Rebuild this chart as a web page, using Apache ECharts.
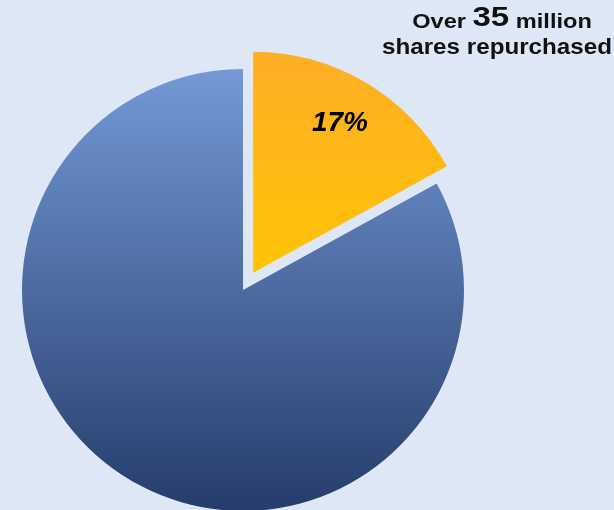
<!DOCTYPE html>
<html>
<head>
<meta charset="utf-8">
<script src="https://cdn.jsdelivr.net/npm/echarts@6/dist/echarts.min.js"></script>
<style>
  html, body { margin: 0; padding: 0; background: #dde7f5; }
  #chart { width: 614px; height: 510px; }
</style>
</head>
<body>
<div id="chart"></div>
<script>
// Share of total shares: repurchased vs remaining
const categories = ['Repurchased', 'Remaining'];
const shareValues = [17, 83];
const headlineParts = ['Over ', '35', ' million'];
const headlineSecond = 'shares repurchased';

const chart = echarts.init(document.getElementById('chart'), null, { renderer: 'canvas' });

const blueFill = new echarts.graphic.LinearGradient(0, 0, 0, 1, [
  { offset: 0, color: '#7399d6' },
  { offset: 1, color: '#263c6b' }
]);
const orangeFill = new echarts.graphic.LinearGradient(0, 0, 0, 1, [
  { offset: 0, color: '#fdae25' },
  { offset: 1, color: '#ffc406' }
]);

const FONT = 'Liberation Sans, Arial, sans-serif';

chart.setOption({
  backgroundColor: '#dde7f5',
  animation: false,
  graphic: [
    {
      type: 'text',
      x: 502,
      y: 4,
      scaleX: 1.18,
      style: {
        text: '{n|' + headlineParts[0] + '}{b|' + headlineParts[1] + '}{n|' + headlineParts[2] + '}',
        align: 'center',
        verticalAlign: 'top',
        rich: {
          n: { fontSize: 20, fontWeight: 'bold', fill: '#111', lineHeight: 28, fontFamily: FONT, verticalAlign: 'bottom' },
          b: { fontSize: 28, fontWeight: 'bold', fill: '#111', lineHeight: 28, fontFamily: FONT, verticalAlign: 'bottom' }
        }
      }
    },
    {
      type: 'text',
      x: 497,
      y: 37,
      scaleX: 1.1,
      style: {
        text: headlineSecond,
        align: 'center',
        verticalAlign: 'top',
        fontSize: 22,
        fontWeight: 'bold',
        fill: '#111',
        fontFamily: FONT
      }
    }
  ],
  series: [{
    type: 'pie',
    center: [243, 290],
    radius: [0, 221],
    startAngle: 90,
    clockwise: true,
    selectedMode: 'single',
    selectedOffset: 20,
    silent: true,
    labelLine: { show: false },
    labelLayout: { dx: 29, dy: -52 },
    data: [
      {
        name: categories[0],
        value: shareValues[0],
        selected: true,
        itemStyle: { color: orangeFill },
        label: {
          show: true,
          position: 'inside',
          formatter: '{c}%',
          fontSize: 28,
          fontWeight: 'bold',
          fontStyle: 'italic',
          color: '#000',
          fontFamily: FONT
        }
      },
      {
        name: categories[1],
        value: shareValues[1],
        itemStyle: { color: blueFill },
        label: { show: false }
      }
    ]
  }]
});
</script>
</body>
</html>
